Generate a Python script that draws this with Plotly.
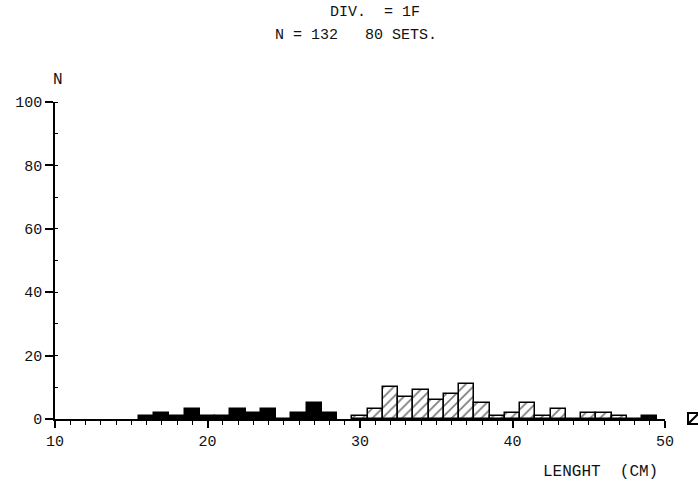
import plotly.graph_objects as go

# Bin centres (cm) and counts
dark_len = [16, 17, 18, 19, 20, 21, 22, 23, 24, 25, 26, 27, 28, 49]
dark_n = [1, 2, 1, 3, 1, 1, 3, 2, 3, 0, 2, 5, 2, 1]
hatch_len = [30, 31, 32, 33, 34, 35, 36, 37, 38, 39, 40, 41, 42, 43, 44, 45, 46, 47, 48]
hatch_n = [1, 3, 10, 7, 9, 6, 8, 11, 5, 1, 2, 5, 1, 3, 0, 2, 2, 1, 0]

x_ticks = [10, 20, 30, 40, 50]
y_ticks = [0, 20, 40, 60, 80, 100]

FONT = "Liberation Mono"

fig = go.Figure()
fig.add_trace(go.Bar(
    x=dark_len, y=dark_n, width=1,
    marker=dict(color="black", line=dict(color="black", width=1.5),
                pattern=dict(shape="/", fgcolor="black", bgcolor="black", solidity=0.8, size=5)),
    showlegend=False,
))
fig.add_trace(go.Bar(
    x=hatch_len, y=hatch_n, width=1,
    marker=dict(color="white", line=dict(color="black", width=1.5),
                pattern=dict(shape="/", fgcolor="black", bgcolor="white", solidity=0.25, size=7)),
    showlegend=False,
))

fig.update_layout(
    width=698, height=491,
    margin=dict(l=55, r=33, t=102, b=72),
    paper_bgcolor="white", plot_bgcolor="white",
    font=dict(family=FONT, size=15, color="#111"),
    bargap=0,
    xaxis=dict(range=[10, 50], tickvals=x_ticks, ticks="outside", ticklen=7, tickwidth=1.5,
               tickcolor="black", showline=True, linecolor="black", linewidth=1.5,
               showgrid=False, zeroline=False, tickfont=dict(family=FONT, size=15),
               minor=dict(dtick=1, ticks="outside", ticklen=4, tickcolor="black", tickwidth=1)),
    yaxis=dict(range=[0, 100], tickvals=y_ticks, ticks="outside", ticklen=8, tickwidth=1.5,
               tickcolor="black", showline=True, linecolor="black", linewidth=1.5,
               showgrid=False, zeroline=False, tickfont=dict(family=FONT, size=15),
               minor=dict(dtick=10, ticks="inside", ticklen=3, tickcolor="black", tickwidth=1)),
)

fig.add_annotation(text="DIV.  = 1F", xref="paper", yref="paper", x=(375 - 55) / 610, y=1 + (102 - 12) / 317,
                   showarrow=False, xanchor="center", yanchor="middle", font=dict(family=FONT, size=15))
fig.add_annotation(text="N = 132   80 SETS.", xref="paper", yref="paper", x=(356 - 55) / 610, y=1 + (102 - 35) / 317,
                   showarrow=False, xanchor="center", yanchor="middle", font=dict(family=FONT, size=15))
fig.add_annotation(text="N", xref="paper", yref="paper", x=(58 - 55) / 610, y=1 + (102 - 80) / 317,
                   showarrow=False, xanchor="center", yanchor="middle", font=dict(family=FONT, size=16))
fig.add_annotation(text="LENGHT  (CM)", xref="paper", yref="paper", x=(600 - 55) / 610, y=-(472 - 419) / 317,
                   showarrow=False, xanchor="center", yanchor="middle", font=dict(family=FONT, size=16))

# partially visible legend box at the right edge
fig.add_shape(type="rect", xref="paper", yref="paper",
              x0=(688 - 55) / 610, x1=(704 - 55) / 610, y0=-(424 - 419) / 317, y1=(419 - 413) / 317,
              line=dict(color="black", width=2), fillcolor="white")
fig.add_shape(type="line", xref="paper", yref="paper",
              x0=(689 - 55) / 610, x1=(698 - 55) / 610, y0=-(423 - 419) / 317, y1=(419 - 414) / 317,
              line=dict(color="black", width=2))

fig.write_html("out.html")
